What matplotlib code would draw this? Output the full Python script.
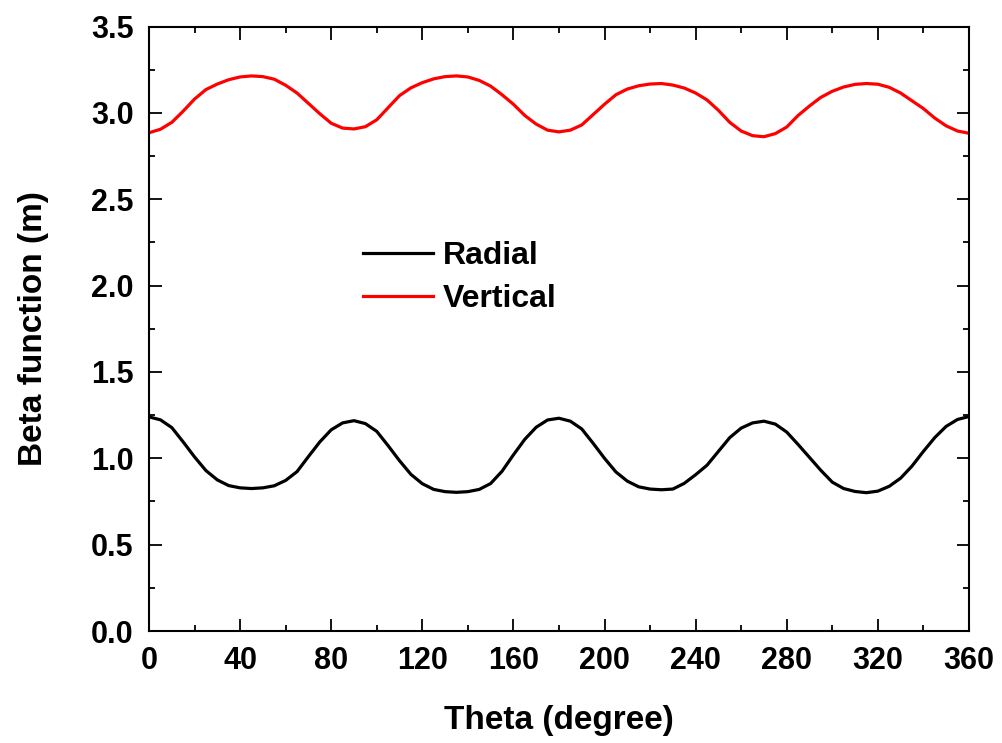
import matplotlib
matplotlib.use("Agg")
import matplotlib.pyplot as plt
from matplotlib.ticker import MultipleLocator

plt.rcParams['font.family'] = ['Liberation Sans', 'DejaVu Sans']
plt.rcParams['font.weight'] = 'bold'

theta = list(range(0, 361, 5))

radial = [1.240, 1.223, 1.178, 1.095, 1.008, 0.929, 0.875, 0.842, 0.829, 0.825,
          0.829, 0.841, 0.872, 0.923, 1.010, 1.095, 1.165, 1.205, 1.218,
          1.201, 1.156, 1.073, 0.986, 0.907, 0.853, 0.820, 0.807, 0.803,
          0.807, 0.820, 0.854, 0.925, 1.020, 1.110, 1.180, 1.222, 1.232,
          1.215, 1.170, 1.087, 1.000, 0.921, 0.868, 0.835, 0.822, 0.818,
          0.822, 0.855, 0.905, 0.960, 1.040, 1.120, 1.175, 1.205, 1.215,
          1.198, 1.152, 1.080, 1.005, 0.930, 0.862, 0.825, 0.808, 0.801,
          0.810, 0.838, 0.885, 0.955, 1.040, 1.120, 1.185, 1.225, 1.242]

vertical = [2.885, 2.905, 2.945, 3.010, 3.080, 3.135, 3.167, 3.192, 3.208, 3.214,
            3.210, 3.195, 3.160, 3.115, 3.055, 2.995, 2.940, 2.912, 2.907,
            2.920, 2.960, 3.030, 3.100, 3.145, 3.175, 3.197, 3.210, 3.214,
            3.208, 3.188, 3.155, 3.105, 3.050, 2.985, 2.935, 2.900, 2.890,
            2.900, 2.930, 2.990, 3.050, 3.105, 3.138, 3.157, 3.167, 3.170,
            3.161, 3.144, 3.115, 3.075, 3.015, 2.945, 2.895, 2.868, 2.862,
            2.880, 2.918, 2.985, 3.040, 3.090, 3.125, 3.150, 3.165, 3.170,
            3.166, 3.148, 3.115, 3.070, 3.025, 2.970, 2.925, 2.895, 2.882]

xticks = [0, 40, 80, 120, 160, 200, 240, 280, 320, 360]
yticks = [0.0, 0.5, 1.0, 1.5, 2.0, 2.5, 3.0, 3.5]

fig = plt.figure(figsize=(10.02, 7.43), dpi=100)
ax = fig.add_axes([0.1487, 0.1507, 0.8183, 0.8136])

ax.plot(theta, radial, color='black', lw=2.3, label='Radial')
ax.plot(theta, vertical, color='#ff0000', lw=2.3, label='Vertical')

ax.set_xlim(0, 360)
ax.set_ylim(0, 3.5)
ax.set_xticks(xticks)
ax.set_yticks(yticks)
ax.set_xticklabels([str(v) for v in xticks])
ax.set_yticklabels([f"{v:.1f}" for v in yticks])
ax.xaxis.set_minor_locator(MultipleLocator(20))
ax.yaxis.set_minor_locator(MultipleLocator(0.25))
ax.tick_params(which='both', direction='in', top=True, right=True, width=1.3)
ax.tick_params(which='major', length=9, labelsize=22, pad=11)
ax.tick_params(which='minor', length=4.5)
for lbl in ax.get_xticklabels() + ax.get_yticklabels():
    lbl.set_fontweight('bold')
for s in ax.spines.values():
    s.set_linewidth(1.5)

ax.set_xlabel('Theta (degree)', fontsize=24, fontweight='bold', labelpad=21)
ax.set_ylabel('Beta function (m)', fontsize=24, fontweight='bold', labelpad=30)

leg = ax.legend(loc='center left', bbox_to_anchor=(0.261, 0.585), frameon=False,
                fontsize=23, handlelength=2.2, handletextpad=0.3,
                labelspacing=0.4, borderpad=0, borderaxespad=0)
for t in leg.get_texts():
    t.set_fontweight('bold')
for l in leg.get_lines():
    l.set_linewidth(2.3)

fig.savefig('out.png', dpi=100)
